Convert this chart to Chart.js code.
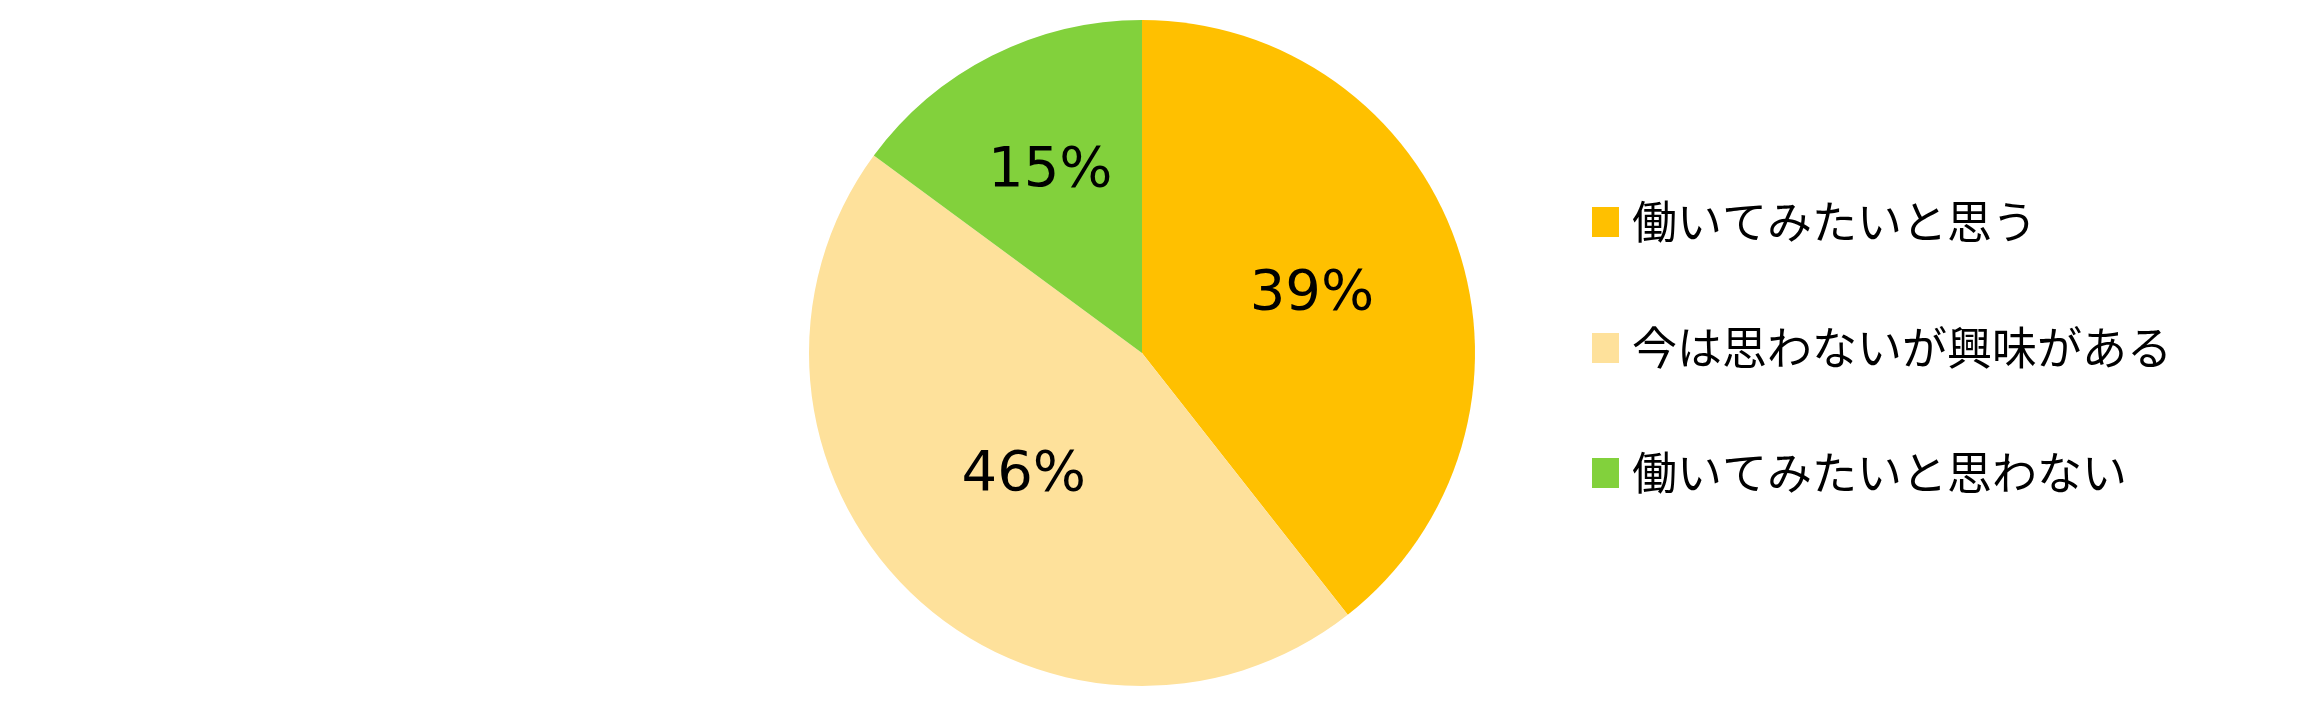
<!DOCTYPE html>
<html lang="ja">
<head>
<meta charset="utf-8">
<script src="https://cdn.jsdelivr.net/npm/chart.js@4/dist/chart.umd.min.js"></script>
<style>
    html, body { margin: 0; padding: 0; background: #fff; overflow: hidden; }
    #wrap { width: 2312px; height: 713px; position: relative; }
</style>
</head>
<body>
<div id="wrap"><canvas id="pieChart"></canvas></div>
<script>
const categories = ['働いてみたいと思う', '今は思わないが興味がある', '働いてみたいと思わない'];
const shares = [39.4, 45.7, 14.9];
const valueLabels = ['39%', '46%', '15%'];
const sliceColors = ['#FFC000', '#FEE19B', '#82D13C'];

// where each percentage sits, as a fraction of the radius (Excel-ish placement)
const labelRadius = [0.54, 0.51, 0.61];

// Percent labels inside the slices
const sliceLabels = {
    id: 'sliceLabels',
    afterDatasetsDraw(chart) {
        const ctx = chart.ctx;
        const meta = chart.getDatasetMeta(0);
        ctx.save();
        ctx.font = '56px "DejaVu Sans", Verdana, sans-serif';
        ctx.fillStyle = '#000';
        ctx.textAlign = 'center';
        ctx.textBaseline = 'middle';
        meta.data.forEach((arc, i) => {
            const p = arc.getProps(['x', 'y', 'startAngle', 'endAngle', 'outerRadius'], true);
            const mid = (p.startAngle + p.endAngle) / 2;
            const r = p.outerRadius * labelRadius[i];
            ctx.fillText(valueLabels[i], p.x + Math.cos(mid) * r, p.y + Math.sin(mid) * r);
        });
        ctx.restore();
    }
};

// Legend drawn on the right, one row per category
const sideLegend = {
    id: 'sideLegend',
    afterDraw(chart) {
        const ctx = chart.ctx;
        const rows = [222, 348, 473];
        ctx.save();
        ctx.font = '45px "Noto Sans CJK JP", sans-serif';
        ctx.textBaseline = 'middle';
        ctx.textAlign = 'left';
        categories.forEach((name, i) => {
            ctx.fillStyle = sliceColors[i];
            ctx.fillRect(1592, rows[i] - 15, 27, 30);
            ctx.fillStyle = '#000';
            ctx.fillText(name, 1632, rows[i]);
        });
        ctx.restore();
    }
};

new Chart(document.getElementById('pieChart').getContext('2d'), {
    type: 'pie',
    data: {
        labels: categories,
        datasets: [{
            data: shares,
            backgroundColor: sliceColors,
            borderWidth: 0
        }]
    },
    options: {
        responsive: true,
        maintainAspectRatio: false,
        animation: false,
        layout: {
            padding: { top: 20, bottom: 27, left: 0, right: 28 }
        },
        plugins: {
            legend: { display: false },
            tooltip: { enabled: false }
        }
    },
    plugins: [sliceLabels, sideLegend]
});
</script>
</body>
</html>
